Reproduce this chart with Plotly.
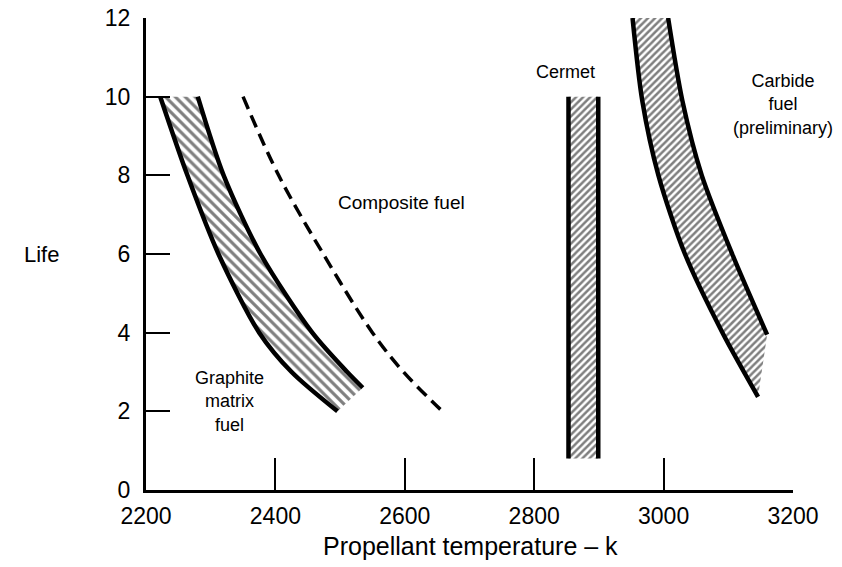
import plotly.graph_objects as go

# Axis ticks
temp_ticks = [2200, 2400, 2600, 2800, 3000, 3200]
life_ticks = [0, 2, 4, 6, 8, 10, 12]

# Graphite matrix fuel band (cool edge / hot edge)
graphite_left_temp = [2222, 2264, 2312, 2375, 2425, 2496]
graphite_left_life = [10, 8, 6, 4, 3, 2]
graphite_right_temp = [2280, 2320, 2377, 2457, 2511, 2535]
graphite_right_life = [10, 8, 6, 4, 3, 2.6]

# Composite fuel (dashed estimate)
composite_temp = [2350, 2405, 2474, 2550, 2598, 2655]
composite_life = [10, 8, 6, 4, 3, 2.05]

# Cermet band
cermet_left_temp = [2853, 2853]
cermet_right_temp = [2899, 2899]
cermet_life = [10, 0.8]

# Carbide fuel band (preliminary)
carbide_left_temp = [2952, 2967, 2992, 3033, 3091, 3146]
carbide_left_life = [12, 9.9, 8, 6, 4, 2.37]
carbide_right_temp = [3007, 3029, 3059, 3106, 3160]
carbide_right_life = [12, 9.9, 8, 6, 3.95]

FONT = "Liberation Sans, Arial, sans-serif"
EDGE = dict(color="black", width=4.5, shape="spline", smoothing=0.8)

fig = go.Figure()


def add_band(lt, ll, rt, rl, shape, size, solidity):
    # hatched area enclosed by the two edges, then the edges themselves
    fig.add_trace(go.Scatter(
        x=lt + rt[::-1], y=ll + rl[::-1], mode="lines",
        line=dict(width=0, color="rgba(0,0,0,0)"), fill="toself",
        fillcolor="white",
        fillpattern=dict(shape=shape, size=size, solidity=solidity,
                         fgcolor="black", bgcolor="white"),
        hoverinfo="skip", showlegend=False))
    for xs, ys in ((lt, ll), (rt, rl)):
        fig.add_trace(go.Scatter(x=xs, y=ys, mode="lines", line=EDGE,
                                 hoverinfo="skip", showlegend=False))


add_band(graphite_left_temp, graphite_left_life,
         graphite_right_temp, graphite_right_life, "\\", 7, 0.45)
add_band(cermet_left_temp, cermet_life,
         cermet_right_temp, cermet_life, "/", 5, 0.5)
add_band(carbide_left_temp, carbide_left_life,
         carbide_right_temp, carbide_right_life, "/", 5, 0.5)

fig.add_trace(go.Scatter(
    x=composite_temp, y=composite_life, mode="lines",
    line=dict(color="black", width=3.5, dash="13px,7px", shape="spline"),
    hoverinfo="skip", showlegend=False))

labels = [
    (2595, 7.3, "Composite fuel", 19),
    (2848, 10.63, "Cermet", 18),
    (3185, 9.79, "Carbide<br>fuel<br>(preliminary)", 18),
    (2329, 2.26, "Graphite<br>matrix<br>fuel", 18),
]
for x, y, t, s in labels:
    fig.add_annotation(x=x, y=y, text=t, showarrow=False,
                       xanchor="center", yanchor="middle",
                       font=dict(family=FONT, size=s, color="black"))

fig.add_annotation(xref="paper", yref="paper", x=-0.161, y=0.498,
                   text="Life", showarrow=False,
                   xanchor="center", yanchor="middle",
                   font=dict(family=FONT, size=22, color="black"))

fig.add_annotation(xref="paper", yref="paper", x=0.502, y=-0.118,
                   text="Propellant temperature – k", showarrow=False,
                   xanchor="center", yanchor="middle",
                   font=dict(family=FONT, size=25, color="black"))

fig.update_xaxes(
    range=[2200, 3200], tickvals=temp_ticks, ticks="inside", ticklen=32,
    tickwidth=2, tickcolor="black", showline=True, linewidth=3,
    linecolor="black", showgrid=False, zeroline=False, automargin=False,
    ticklabelstandoff=3,
    tickfont=dict(family=FONT, size=23, color="black"))
fig.update_yaxes(
    range=[0, 12], tickvals=life_ticks, ticks="inside", ticklen=24,
    tickwidth=2, tickcolor="black", showline=True, linewidth=3,
    linecolor="black", showgrid=False, zeroline=False, automargin=False,
    ticklabelstandoff=8,
    tickfont=dict(family=FONT, size=23, color="black"))

fig.update_layout(
    width=842, height=567,
    margin=dict(l=146, r=49, t=18, b=77),
    paper_bgcolor="white", plot_bgcolor="white",
    font=dict(family=FONT, color="black"),
)

fig.write_html("out.html")
